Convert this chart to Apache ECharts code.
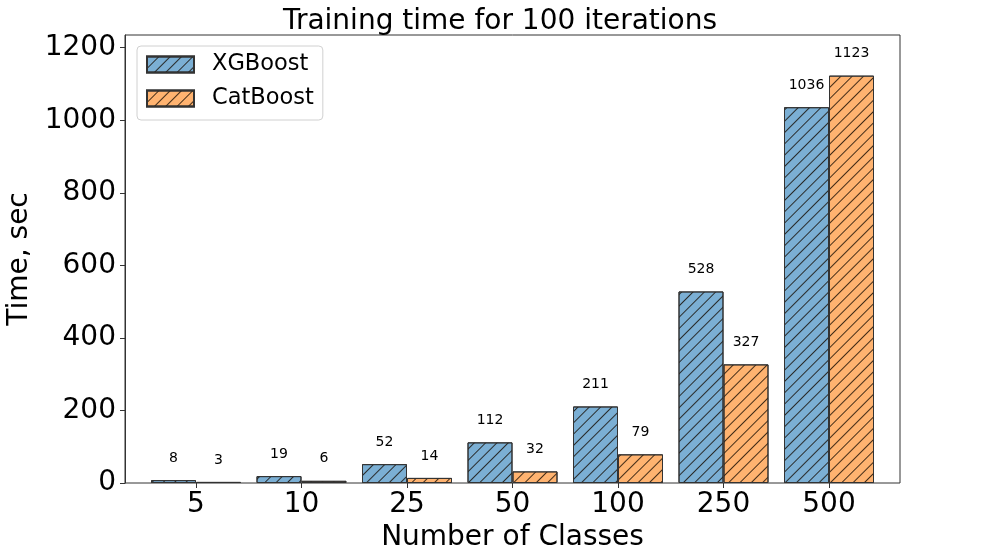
<!DOCTYPE html>
<html>
<head>
<meta charset="utf-8">
<script src="https://cdn.jsdelivr.net/npm/echarts@6/dist/echarts.min.js"></script>
<style>
html,body{margin:0;padding:0;background:#fff;}
#main{width:1000px;height:548px;}
</style>
</head>
<body>
<div id="main"></div>
<script>
const categories = ['5', '10', '25', '50', '100', '250', '500'];
const xgboost = [8, 19, 52, 112, 211, 528, 1036];
const catboost = [3, 6, 14, 32, 79, 327, 1123];
const yTicks = [0, 200, 400, 600, 800, 1000, 1200];
const yMax = 1235;

const FONT = 'DejaVu Sans';

function hatch() {
  return {
    symbol: 'rect',
    symbolSize: 1,
    symbolKeepAspect: false,
    dashArrayX: [1, 0],
    dashArrayY: [1, 6.6],
    rotation: -Math.PI / 4,
    color: 'rgba(20,10,0,0.8)'
  };
}

const chart = echarts.init(document.getElementById('main'), null, {renderer: 'canvas'});
chart.setOption({
  animation: false,
  aria: {enabled: true, decal: {show: true}},
  textStyle: {fontFamily: FONT},
  title: {
    text: 'Training time for 100 iterations',
    left: 'center',
    top: 3,
    textStyle: {fontFamily: FONT, fontSize: 28, fontWeight: 'normal', color: '#000'}
  },
  legend: {
    left: 137,
    top: 46,
    orient: 'vertical',
    itemWidth: 47,
    itemHeight: 16,
    itemGap: 11,
    padding: [7, 9, 10, 9],
    borderColor: '#d0d0d0',
    borderWidth: 1,
    borderRadius: 4,
    backgroundColor: 'rgba(255,255,255,0.8)',
    icon: 'rect',
    textStyle: {fontFamily: FONT, fontSize: 22.5, color: '#000', padding: [0, 0, 0, 13]},
    data: ['XGBoost', 'CatBoost']
  },
  grid: [
    {left: 143.25, right: 118.25, top: 35, bottom: 65, outerBoundsMode: 'none'},
    {left: 125, right: 100, top: 35, bottom: 65, outerBoundsMode: 'none',
      show: true, borderColor: '#333', borderWidth: 1, backgroundColor: 'transparent'}
  ],
  xAxis: [
    {
      type: 'category',
      gridIndex: 0,
      data: categories,
      boundaryGap: true,
      name: 'Number of Classes',
      nameLocation: 'middle',
      nameGap: 40,
      nameTextStyle: {fontFamily: FONT, fontSize: 28, color: '#000'},
      axisLine: {show: false},
      axisTick: {show: true, alignWithLabel: true, length: 5, lineStyle: {color: '#333'}},
      axisLabel: {margin: 8, fontFamily: FONT, fontSize: 28, color: '#000', interval: 0},
      splitLine: {show: false}
    },
    {
      type: 'value',
      gridIndex: 1,
      min: 0, max: 1,
      show: false
    }
  ],
  yAxis: [
    {
      type: 'value',
      gridIndex: 0,
      min: 0, max: yMax,
      show: false
    },
    {
      type: 'value',
      gridIndex: 1,
      min: 0,
      max: yMax,
      name: 'Time, sec',
      nameLocation: 'middle',
      nameGap: 82,
      nameTextStyle: {fontFamily: FONT, fontSize: 28, color: '#000'},
      axisLine: {show: true, onZero: false, lineStyle: {color: '#333', width: 1}},
      axisTick: {show: true, length: 5, customValues: yTicks, lineStyle: {color: '#333'}},
      axisLabel: {customValues: yTicks, margin: 9, fontFamily: FONT, fontSize: 28, color: '#000',
        formatter: v => String(v)},
      splitLine: {show: false}
    }
  ],
  series: [
    {
      name: 'XGBoost',
      type: 'bar',
      xAxisIndex: 0, yAxisIndex: 0,
      barWidth: 45,
      barGap: '0%',
      data: xgboost,
      itemStyle: {color: '#7bafd4', borderColor: '#333', borderWidth: 1, decal: hatch()},
      label: {show: true, position: 'top', distance: 15, fontFamily: FONT, fontSize: 14, color: '#000'}
    },
    {
      name: 'CatBoost',
      type: 'bar',
      xAxisIndex: 0, yAxisIndex: 0,
      barWidth: 45,
      barGap: '0%',
      data: catboost,
      itemStyle: {color: '#ffb370', borderColor: '#333', borderWidth: 1, decal: hatch()},
      label: {show: true, position: 'top', distance: 15, fontFamily: FONT, fontSize: 14, color: '#000'}
    }
  ]
});
</script>
</body>
</html>
